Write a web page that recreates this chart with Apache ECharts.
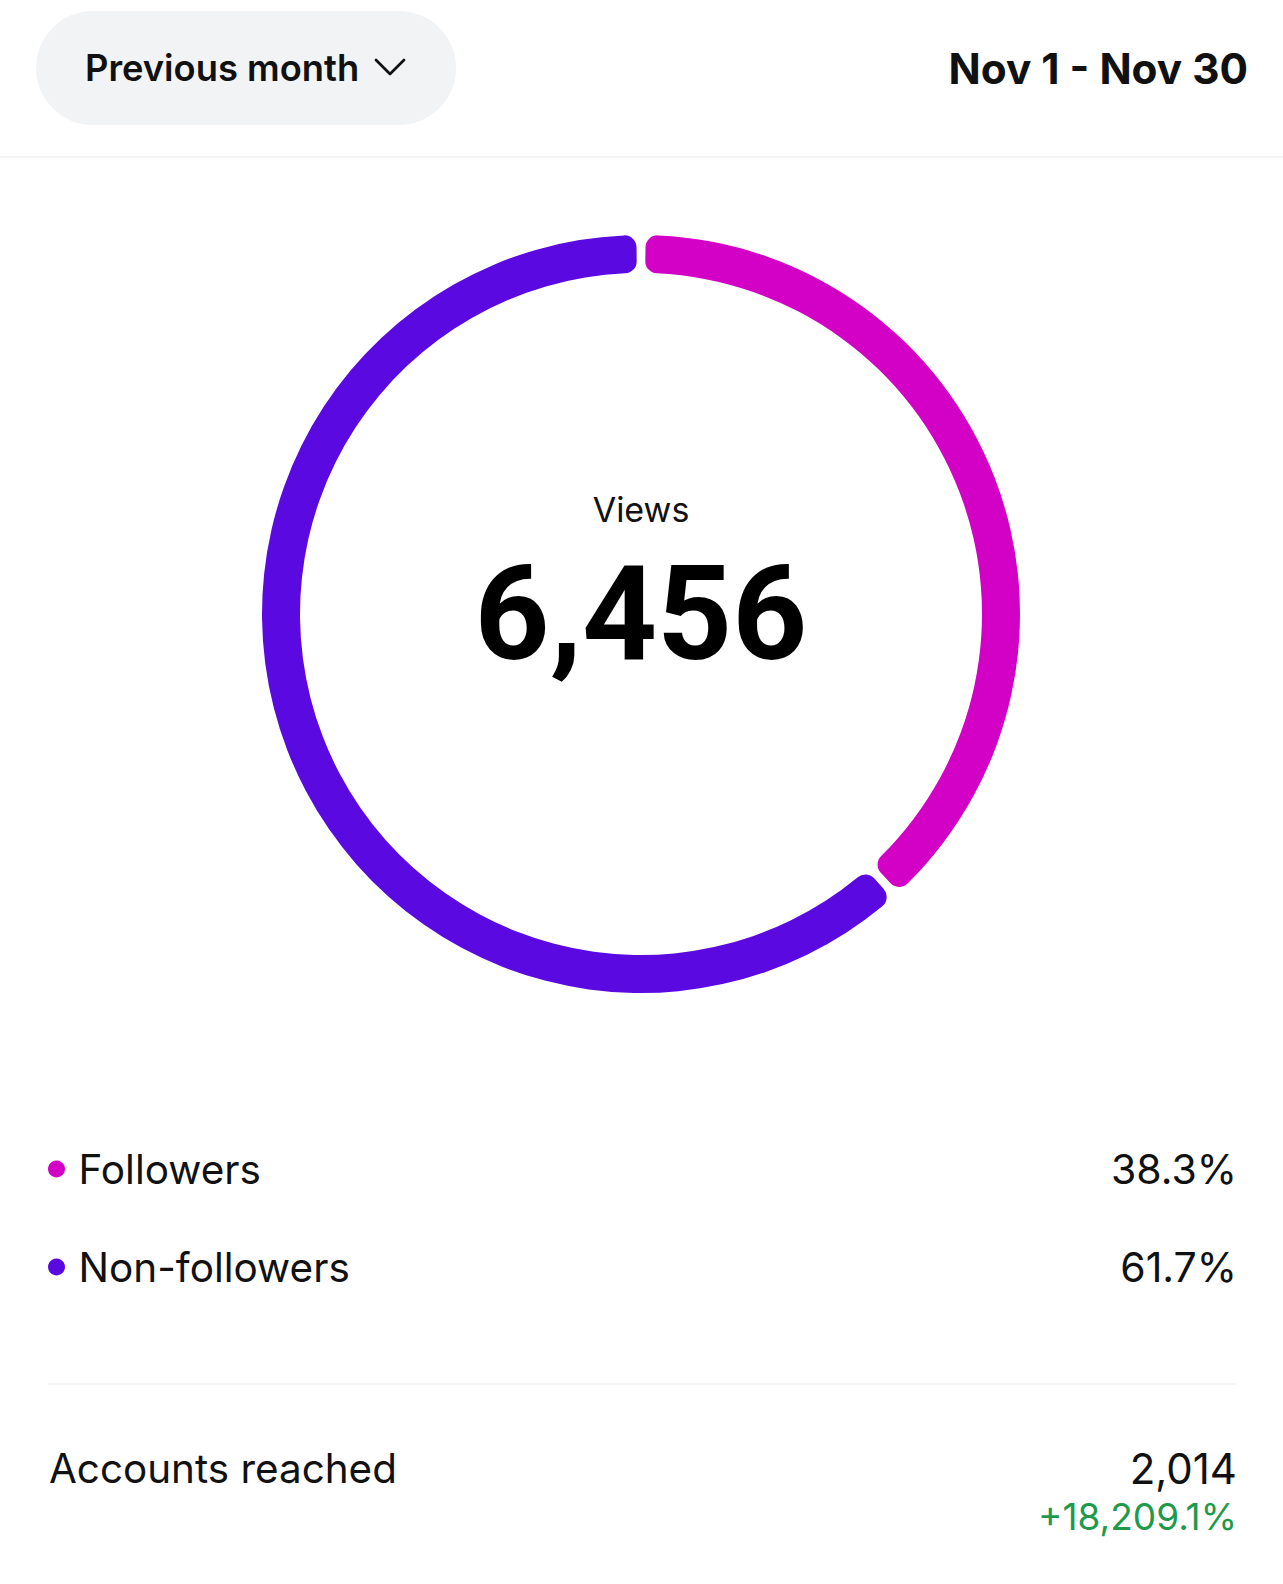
<!DOCTYPE html>
<html>
<head>
<meta charset="utf-8">
<script src="https://cdn.jsdelivr.net/npm/echarts@6/dist/echarts.min.js"></script>
<style>
html,body{margin:0;padding:0;background:#fff;}
#chart{width:1283px;height:1584px;}
</style>
</head>
<body>
<div id="chart"></div>
<script>
// ---- data ----
const categories = ['Followers', 'Non-followers'];
const shares = [38.3, 61.7];
const colors = ['#D300C5', '#5A09E0'];
const centerLabel = 'Views';
const totalViews = 6456;
const periodLabel = 'Previous month';
const dateRange = 'Nov 1 - Nov 30';
const statLabel = 'Accounts reached';
const statValue = 2014;
const statChange = '+18,209.1%';

const FONT = 'Inter, Roboto, "Noto Sans", sans-serif';
const NUMFONT = 'Roboto, Inter, "Noto Sans", sans-serif';
const fmt = n => n.toLocaleString('en-US');

const chart = echarts.init(document.getElementById('chart'), null, {renderer: 'svg'});

const rowY = [1169, 1267];

const option = {
  backgroundColor: '#ffffff',
  animation: false,
  legend: {
    orient: 'vertical',
    left: 43,
    top: 1140,
    icon: 'circle',
    itemWidth: 34,
    itemHeight: 17,
    itemGap: 50,
    selectedMode: false,
    data: categories,
    textStyle: {fontFamily: FONT, fontSize: 40.5, color: '#111111', lineHeight: 48}
  },
  series: [{
    type: 'pie',
    center: [641, 614],
    radius: [341, 379],
    startAngle: 90,
    clockwise: true,
    padAngle: 1.4,
    silent: true,
    label: {show: false},
    labelLine: {show: false},
    itemStyle: {borderRadius: 12},
    data: categories.map((c, i) => ({name: c, value: shares[i], itemStyle: {color: colors[i]}}))
  }],
  graphic: [
    {type: 'rect', shape: {x: 36, y: 11, width: 420, height: 114, r: 57}, style: {fill: '#F2F3F5'}},
    {type: 'text', x: 85, y: 68, style: {text: periodLabel, font: '600 36.3px ' + FONT, fill: '#111111', verticalAlign: 'middle'}},
    {type: 'polyline', shape: {points: [[376, 60], [390, 74], [404, 60]]}, style: {stroke: '#111111', lineWidth: 2.8, fill: null, lineCap: 'round', lineJoin: 'round'}},
    {type: 'text', x: 1248, y: 68, style: {text: dateRange, font: '700 42.3px ' + FONT, fill: '#111111', align: 'right', verticalAlign: 'middle'}},
    {type: 'rect', shape: {x: 0, y: 156, width: 1283, height: 2}, style: {fill: '#F3F4F5'}},
    {type: 'text', x: 641, y: 509, style: {text: centerLabel, font: '400 34px ' + FONT, fill: '#111111', align: 'center', verticalAlign: 'middle'}},
    {type: 'text', x: 641, y: 614, style: {text: fmt(totalViews), font: '700 131px ' + NUMFONT, fill: '#000000', align: 'center', verticalAlign: 'middle'}},
    ...shares.map((s, i) => ({type: 'text', x: 1237, y: rowY[i], style: {text: s.toFixed(1) + '%', font: '400 41px ' + FONT, fill: '#111111', align: 'right', verticalAlign: 'middle'}})),
    {type: 'rect', shape: {x: 48, y: 1383, width: 1188, height: 2}, style: {fill: '#F3F4F5'}},
    {type: 'text', x: 49, y: 1468, style: {text: statLabel, font: '400 40.4px ' + FONT, fill: '#111111', verticalAlign: 'middle'}},
    {type: 'text', x: 1237, y: 1468, style: {text: fmt(statValue), font: '400 42px ' + FONT, fill: '#111111', align: 'right', verticalAlign: 'middle'}},
    {type: 'text', x: 1237, y: 1516, style: {text: statChange, font: '400 37px ' + FONT, fill: '#1E9A4A', align: 'right', verticalAlign: 'middle'}}
  ]
};
chart.setOption(option);
</script>
</body>
</html>
